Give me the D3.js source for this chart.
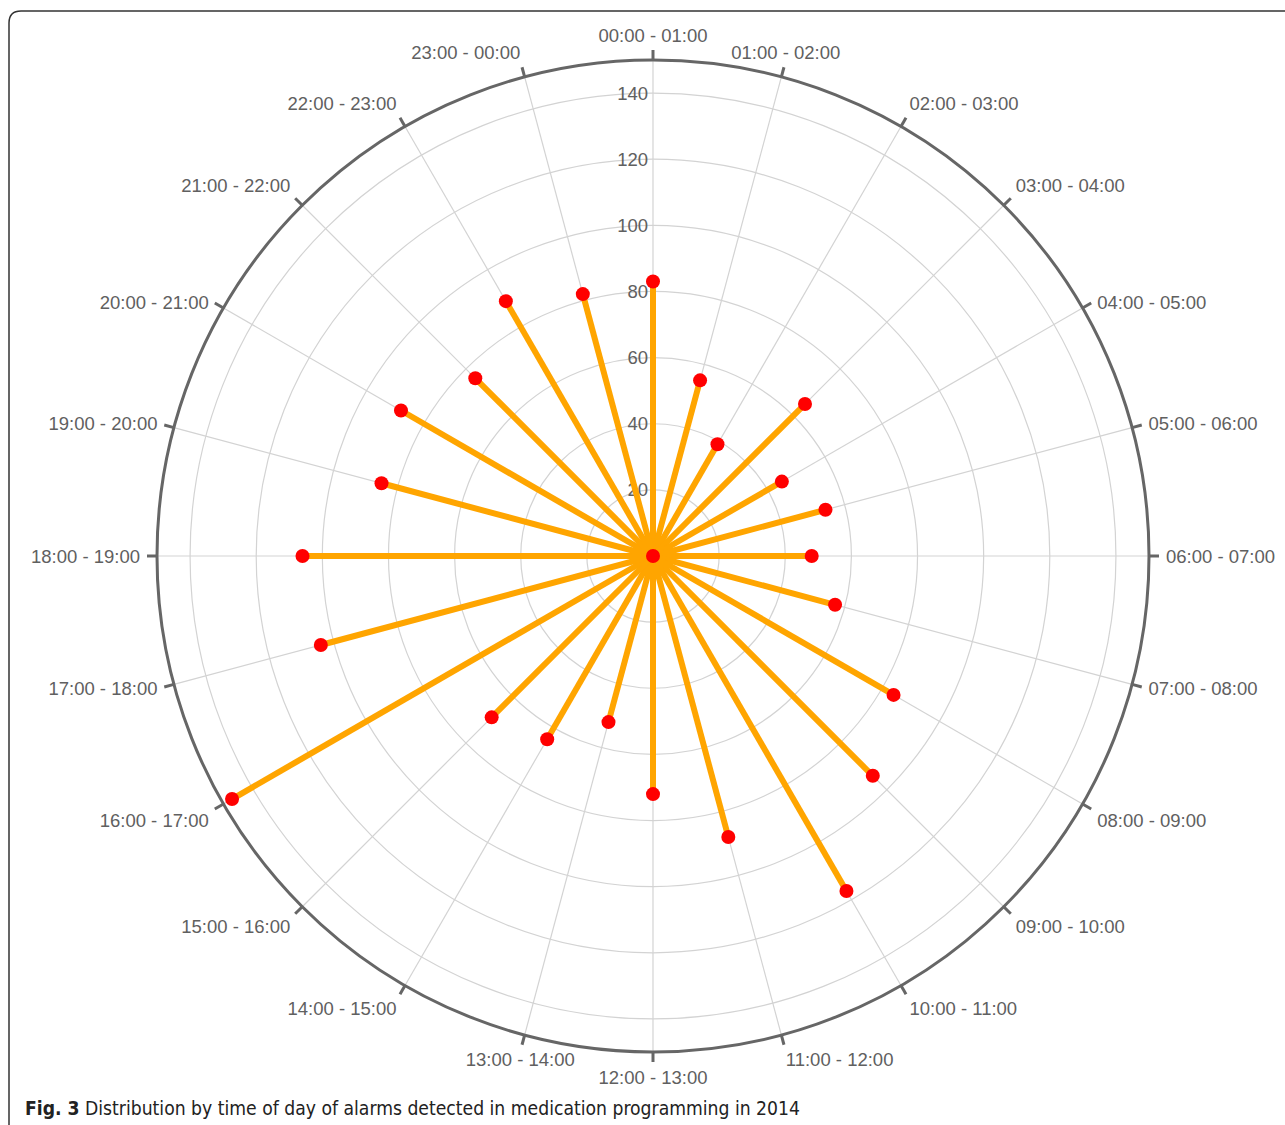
<!DOCTYPE html>
<html>
<head>
<meta charset="utf-8">
<script src="https://cdn.jsdelivr.net/npm/d3@7"></script>
<style>
  html, body { margin: 0; padding: 0; background: #fff; }
  svg { display: block; }
</style>
</head>
<body>
<svg id="chart" width="1285" height="1125"></svg>
<script>
// ---- data ----
const categories = [
  "00:00 - 01:00","01:00 - 02:00","02:00 - 03:00","03:00 - 04:00","04:00 - 05:00","05:00 - 06:00",
  "06:00 - 07:00","07:00 - 08:00","08:00 - 09:00","09:00 - 10:00","10:00 - 11:00","11:00 - 12:00",
  "12:00 - 13:00","13:00 - 14:00","14:00 - 15:00","15:00 - 16:00","16:00 - 17:00","17:00 - 18:00",
  "18:00 - 19:00","19:00 - 20:00","20:00 - 21:00","21:00 - 22:00","22:00 - 23:00","23:00 - 00:00"
];
const alarms = [83, 55, 39, 65, 45, 54, 48, 57, 84, 94, 117, 88, 72, 52, 64, 69, 147, 104, 106, 85, 88, 76, 89, 82];
const radialTicks = [20, 40, 60, 80, 100, 120, 140];
const radialMax = 150;
const caption = { bold: "Fig. 3", text: " Distribution by time of day of alarms detected in medication programming in 2014" };

// ---- layout ----
const svg = d3.select("#chart");
const cx = 653, cy = 556, R = 496;
const r = d3.scaleLinear().domain([0, radialMax]).range([0, R]);
const angle = d3.scaleLinear().domain([0, categories.length]).range([0, 2 * Math.PI]);
const px = (a, rad) => cx + rad * Math.sin(a);
const py = (a, rad) => cy - rad * Math.cos(a);

// frame
svg.append("path")
  .attr("d", "M9,1135 L9,23 Q9,11 21,11 L1295,11")
  .attr("fill", "none").attr("stroke", "#333").attr("stroke-width", 1.5);

const g = svg.append("g");

// grid circles
g.selectAll("circle.grid").data(radialTicks).join("circle")
  .attr("class", "grid")
  .attr("cx", cx).attr("cy", cy).attr("r", d => r(d))
  .attr("fill", "none").attr("stroke", "#d3d3d3").attr("stroke-width", 1.2);

// spoke grid lines
g.selectAll("line.spoke").data(categories).join("line")
  .attr("class", "spoke")
  .attr("x1", cx).attr("y1", cy)
  .attr("x2", (d, i) => px(angle(i), R)).attr("y2", (d, i) => py(angle(i), R))
  .attr("stroke", "#d3d3d3").attr("stroke-width", 1.2);

// outer circle
g.append("circle").attr("cx", cx).attr("cy", cy).attr("r", R)
  .attr("fill", "none").attr("stroke", "#666").attr("stroke-width", 3);

// ticks
g.selectAll("line.tick").data(categories).join("line")
  .attr("class", "tick")
  .attr("x1", (d, i) => px(angle(i), R)).attr("y1", (d, i) => py(angle(i), R))
  .attr("x2", (d, i) => px(angle(i), R + 10)).attr("y2", (d, i) => py(angle(i), R + 10))
  .attr("stroke", "#666").attr("stroke-width", 3);

// category labels
const labelFont = "'Liberation Sans', Arial, Helvetica, sans-serif";
function anchorFor(i) {
  const deg = angle(i) * 180 / Math.PI;
  if (deg > 15.5 && deg < 165.5) return "start";
  if (deg > 195.5 && deg < 345.5) return "end";
  return "middle";
}
function dyFor(i) {
  const c = Math.cos(angle(i));
  if (c > 0.6) return -8;
  if (c >= 0.4) return 3;
  if (c > -0.4) return 0;
  return 8;
}
g.selectAll("text.cat").data(categories).join("text")
  .attr("class", "cat")
  .attr("x", (d, i) => px(angle(i), R + 17))
  .attr("y", (d, i) => py(angle(i), R + 17) + dyFor(i))
  .attr("text-anchor", (d, i) => anchorFor(i))
  .attr("dominant-baseline", "central")
  .attr("font-family", labelFont).attr("font-size", 18.5)
  .attr("fill", "#606060")
  .text(d => d);

// radial labels
g.selectAll("text.rad").data(radialTicks).join("text")
  .attr("class", "rad")
  .attr("x", cx - 5).attr("y", d => cy - r(d))
  .attr("text-anchor", "end").attr("dominant-baseline", "central")
  .attr("font-family", labelFont).attr("font-size", 18.5)
  .attr("fill", "#606060")
  .text(d => d);

// series lines
g.selectAll("line.bar").data(alarms).join("line")
  .attr("class", "bar")
  .attr("x1", cx).attr("y1", cy)
  .attr("x2", (d, i) => px(angle(i), r(d))).attr("y2", (d, i) => py(angle(i), r(d)))
  .attr("stroke", "#FFA500").attr("stroke-width", 6);

// center dot
g.append("circle").attr("cx", cx).attr("cy", cy).attr("r", 7).attr("fill", "#FF0000");

// value dots
g.selectAll("circle.dot").data(alarms).join("circle")
  .attr("class", "dot")
  .attr("cx", (d, i) => px(angle(i), r(d))).attr("cy", (d, i) => py(angle(i), r(d)))
  .attr("r", 7).attr("fill", "#FF0000");

// caption
const cap = svg.append("text")
  .attr("x", 25).attr("y", 1115)
  .attr("font-family", "'Liberation Sans Narrow', 'DejaVu Sans Condensed', 'Open Sans', sans-serif")
  .attr("font-size", 20).attr("fill", "#222");
cap.append("tspan").attr("font-weight", "bold").text(caption.bold);
cap.append("tspan").text(caption.text);
cap.attr("textLength", 775).attr("lengthAdjust", "spacingAndGlyphs");
</script>
</body>
</html>
